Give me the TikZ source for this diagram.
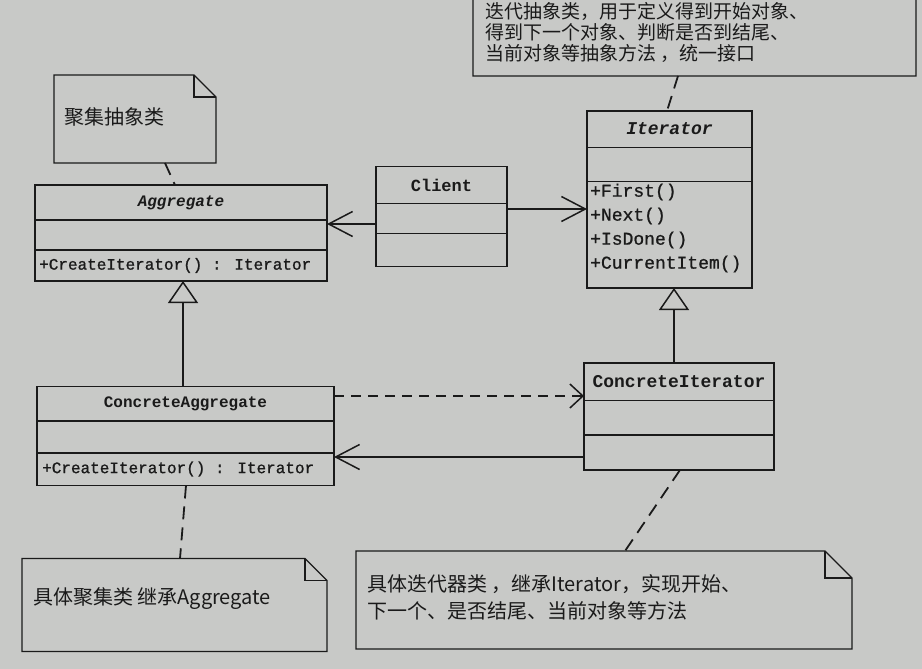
\documentclass[tikz,border=0pt]{standalone}
\usepackage{fontspec}
\setmonofont{Liberation Mono}
\newfontfamily\cjk{Noto Sans CJK SC}
\newfontfamily\monodark[FakeBold=1]{Liberation Mono}
\usetikzlibrary{arrows.meta}
\definecolor{paper}{RGB}{200,201,199}
\definecolor{ink}{RGB}{26,26,26}
\tikzset{
  box/.style={draw=ink, line width=1.7pt, inner sep=0pt, outer sep=0pt},
  divider/.style={draw=ink, line width=1.6pt},
  notebox/.style={inner sep=0pt, outer sep=0pt},
  noteline/.style={draw=ink, line width=1.3pt, line join=miter},
  assoc/.style={draw=ink, line width=1.5pt, -{Straight Barb[length=24pt,width=25pt]}},
  depend/.style={draw=ink, line width=1.5pt, dash pattern=on 10pt off 7pt, -{Straight Barb[length=13pt,width=24pt]}},
  inherit/.style={draw=ink, line width=1.5pt, -{Triangle[open,length=22pt,width=30pt]}},
  anchorline/.style={draw=ink, line width=1.8pt, dash pattern=on 13pt off 8pt},
  clsname/.style={text=ink, inner sep=0pt, font=\ttfamily\bfseries\fontsize{#1}{#1}\selectfont},
  member/.style={text=ink, inner sep=0pt, anchor=west, font=\monodark\fontsize{#1}{#1}\selectfont},
  notetext/.style={text=ink, inner sep=0pt, anchor=west, font=\cjk\fontsize{#1}{#1}\selectfont},
}
\newcommand{\drawnote}[2]{%
  \draw[noteline] (#1.north west) -- ([xshift=-#2]#1.north east) -- ([yshift=-#2]#1.north east) -- (#1.south east) -- (#1.south west) -- cycle;
  \draw[noteline] ([xshift=-#2]#1.north east) |- ([yshift=-#2]#1.north east);
}
\begin{document}
\begin{tikzpicture}[x=1pt,y=-1pt]
\useasboundingbox (0,0) rectangle (922,669);
\fill[paper] (0,0) rectangle (922,669);
\begin{scope}
\clip (0,0) rectangle (922,669);

% ---------- classes ----------
\node[box, minimum width=292pt, minimum height=96pt] (agg) at (181,233) {};
\draw[divider] ([yshift=-35pt]agg.north west) -- ([yshift=-35pt]agg.north east);
\draw[divider] ([yshift=-65pt]agg.north west) -- ([yshift=-65pt]agg.north east);
\node[clsname=16] (aggname) at ([yshift=-17.5pt]agg.north) {\itshape Aggregate};
\node[member=16] (aggop) at ([xshift=4pt,yshift=-80.5pt]agg.north west) {+CreateIterator() : Iterator};

\node[box, minimum width=131pt, minimum height=100pt] (client) at (441.5,216.5) {};
\draw[divider] ([yshift=-37pt]client.north west) -- ([yshift=-37pt]client.north east);
\draw[divider] ([yshift=-67pt]client.north west) -- ([yshift=-67pt]client.north east);
\node[clsname=17] (clientname) at ([yshift=-18.5pt]client.north) {Client};

\node[box, minimum width=165pt, minimum height=177pt] (iter) at (669.5,199.5) {};
\draw[divider] ([yshift=-36.5pt]iter.north west) -- ([yshift=-36.5pt]iter.north east);
\draw[divider] ([yshift=-70.5pt]iter.north west) -- ([yshift=-70.5pt]iter.north east);
\node[clsname=18] (itername) at ([yshift=-18pt]iter.north) {\itshape Iterator};
\node[member=18] (iop1) at ([xshift=3pt,yshift=-81pt]iter.north west) {+First()};
\node[member=18] (iop2) at ([xshift=3pt,yshift=-105pt]iter.north west) {+Next()};
\node[member=18] (iop3) at ([xshift=3pt,yshift=-129pt]iter.north west) {+IsDone()};
\node[member=18] (iop4) at ([xshift=3pt,yshift=-153pt]iter.north west) {+CurrentItem()};

\node[box, minimum width=297pt, minimum height=99pt] (ca) at (185.5,436) {};
\draw[divider] ([yshift=-34.5pt]ca.north west) -- ([yshift=-34.5pt]ca.north east);
\draw[divider] ([yshift=-66.5pt]ca.north west) -- ([yshift=-66.5pt]ca.north east);
\node[clsname=16] (caname) at ([yshift=-17pt]ca.north) {ConcreteAggregate};
\node[member=16] (caop) at ([xshift=5pt,yshift=-82.5pt]ca.north west) {+CreateIterator() : Iterator};

\node[box, minimum width=190pt, minimum height=107pt] (ci) at (679,416.5) {};
\draw[divider] ([yshift=-37.5pt]ci.north west) -- ([yshift=-37.5pt]ci.north east);
\draw[divider] ([yshift=-72pt]ci.north west) -- ([yshift=-72pt]ci.north east);
\node[clsname=18] (ciname) at ([yshift=-18.5pt]ci.north) {ConcreteIterator};

% ---------- notes ----------
\node[notebox, minimum width=443pt, minimum height=116pt] (n0) at (694.5,18) {};
\drawnote{n0}{25pt}
\node[notetext=19] (t0a) at (485,11) {迭代抽象类，用于定义得到开始对象、};
\node[notetext=19] (t0b) at (485,32) {得到下一个对象、判断是否到结尾、};
\node[notetext=19] (t0c) at (485,53) {当前对象等抽象方法 ，统一接口};

\node[notebox, minimum width=162pt, minimum height=88pt] (n1) at (135,119) {};
\drawnote{n1}{22pt}
\node[notetext=20] (t1) at (64,117) {聚集抽象类};

\node[notebox, minimum width=305pt, minimum height=93pt] (n2) at (174.5,605) {};
\drawnote{n2}{22pt}
\node[notetext=20] (t2) at (33,599) {具体聚集类 继承Aggregate};

\node[notebox, minimum width=496pt, minimum height=98pt] (n3) at (604,600) {};
\drawnote{n3}{27pt}
\node[notetext=20] (t3a) at (367,584) {具体迭代器类 ，继承Iterator，实现开始、};
\node[notetext=20] (t3b) at (367,611) {下一个、是否结尾、当前对象等方法};

% ---------- connectors ----------
\draw[assoc] (client.east |- 0,209) -- (iter.west |- 0,209);
\draw[assoc] (client.west |- 0,224) -- (agg.east |- 0,224);
\draw[depend] (ca.east |- 0,396) -- (ci.west |- 0,396);
\draw[assoc] (ci.west |- 0,457) -- (ca.east |- 0,457);
\draw[inherit] (ci.north -| 674,0) -- (iter.south -| 674,0);
\draw[inherit] (ca.north -| 183,0) -- (agg.south -| 183,0);

\draw[anchorline] (n1.south -| 165,0) -- (agg.north -| 175,0);
\draw[anchorline] (ca.south -| 186,0) -- (n2.north -| 180,0);
\draw[anchorline] (ci.south -| 680,0) -- (n3.north -| 625,0);
\draw[anchorline] (n0.south -| 678,0) -- (iter.north -| 667,0);
\end{scope}
\end{tikzpicture}
\end{document}
